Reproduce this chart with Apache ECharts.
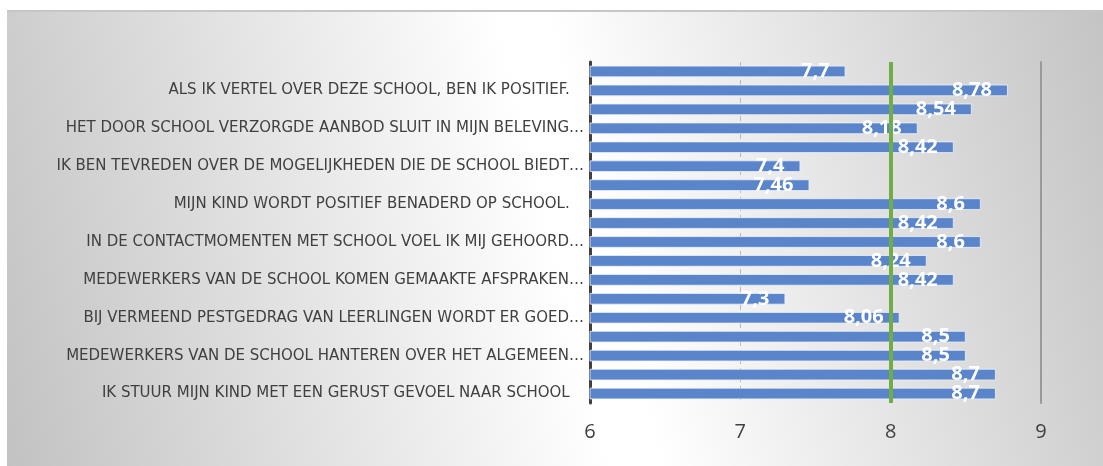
<!DOCTYPE html>
<html>
<head>
<meta charset="utf-8">
<script src="https://cdn.jsdelivr.net/npm/echarts@6/dist/echarts.min.js"></script>
<style>
  html, body { margin: 0; padding: 0; background: #fff; }
  #chart {
    position: absolute; left: 7px; top: 10px; width: 1096px; height: 456px;
    border-top: 2px solid #c6c6c6; box-sizing: border-box;
    background: linear-gradient(76deg, #c2c2c2 0%, #ffffff 50%, #ffffff 54%, #c4c4c4 100%);
  }
</style>
</head>
<body>
<div id="chart"></div>
<script>
// vragen (alleen elke tweede staat als label op de as)
var labels = [
  "ALS IK VERTEL OVER DEZE SCHOOL, BEN IK POSITIEF.   ",
  "HET DOOR SCHOOL VERZORGDE AANBOD SLUIT IN MIJN BELEVING…",
  "IK BEN TEVREDEN OVER DE MOGELIJKHEDEN DIE DE SCHOOL BIEDT…",
  "MIJN KIND WORDT POSITIEF BENADERD OP SCHOOL.   ",
  "IN DE CONTACTMOMENTEN MET SCHOOL VOEL IK MIJ GEHOORD…",
  "MEDEWERKERS VAN DE SCHOOL KOMEN GEMAAKTE AFSPRAKEN…",
  "BIJ VERMEEND PESTGEDRAG VAN LEERLINGEN WORDT ER GOED…",
  "MEDEWERKERS VAN DE SCHOOL HANTEREN OVER HET ALGEMEEN…",
  "IK STUUR MIJN KIND MET EEN GERUST GEVOEL NAAR SCHOOL   "
];
// scores van boven naar beneden
var scores = [7.7, 8.78, 8.54, 8.18, 8.42, 7.4, 7.46, 8.6, 8.42, 8.6, 8.24, 8.42, 7.3, 8.06, 8.5, 8.5, 8.7, 8.7];
var norm = 8;
var ticks = [6, 7, 8, 9];

var categories = scores.map(function (v, i) { return String(i); });

var myChart = echarts.init(document.getElementById("chart"));
var font = "'Open Sans', 'DejaVu Sans', sans-serif";

var option = {
  animation: false,
  grid: { left: 583, right: 62, top: 50, bottom: 63 },
  xAxis: {
    type: "value",
    min: ticks[0],
    max: ticks[ticks.length - 1],
    interval: 1,
    axisLine: { show: false },
    axisTick: { show: false },
    axisLabel: { color: "#404040", fontSize: 20, fontFamily: font, margin: 19 },
    splitLine: { lineStyle: { color: "#b8b8b8", type: [5, 4], width: 1 } }
  },
  yAxis: [
    {
      type: "category",
      inverse: true,
      data: categories,
      axisLine: { lineStyle: { color: "#404040", width: 3 } },
      axisTick: { show: false },
      axisLabel: {
        interval: function (index) { return index % 2 === 1; },
        formatter: function (value, index) { return labels[(index - 1) / 2]; },
        color: "#404040",
        fontSize: 15,
        fontFamily: "'DejaVu Sans', sans-serif",
        margin: 6
      }
    },
    {
      type: "category",
      inverse: true,
      position: "right",
      data: categories,
      axisLine: { lineStyle: { color: "#9a9a9a", width: 2 } },
      axisTick: { show: false },
      axisLabel: { show: false }
    }
  ],
  series: [
    {
      type: "bar",
      data: scores,
      barCategoryGap: "38%",
      itemStyle: {
        color: "#5a85cb",
        borderColor: "rgba(235,240,250,0.8)",
        borderWidth: 1
      },
      label: {
        show: true,
        position: "insideRight",
        distance: 16,
        color: "#ffffff",
        fontWeight: "bold",
        fontSize: 20,
        fontFamily: font,
        formatter: function (p) { return String(p.value).replace(".", ","); }
      },
      markLine: {
        silent: true,
        symbol: "none",
        label: { show: false },
        lineStyle: { color: "#70ad47", width: 4, type: "solid" },
        data: [{ xAxis: norm }]
      }
    }
  ]
};

myChart.setOption(option);
</script>
</body>
</html>
